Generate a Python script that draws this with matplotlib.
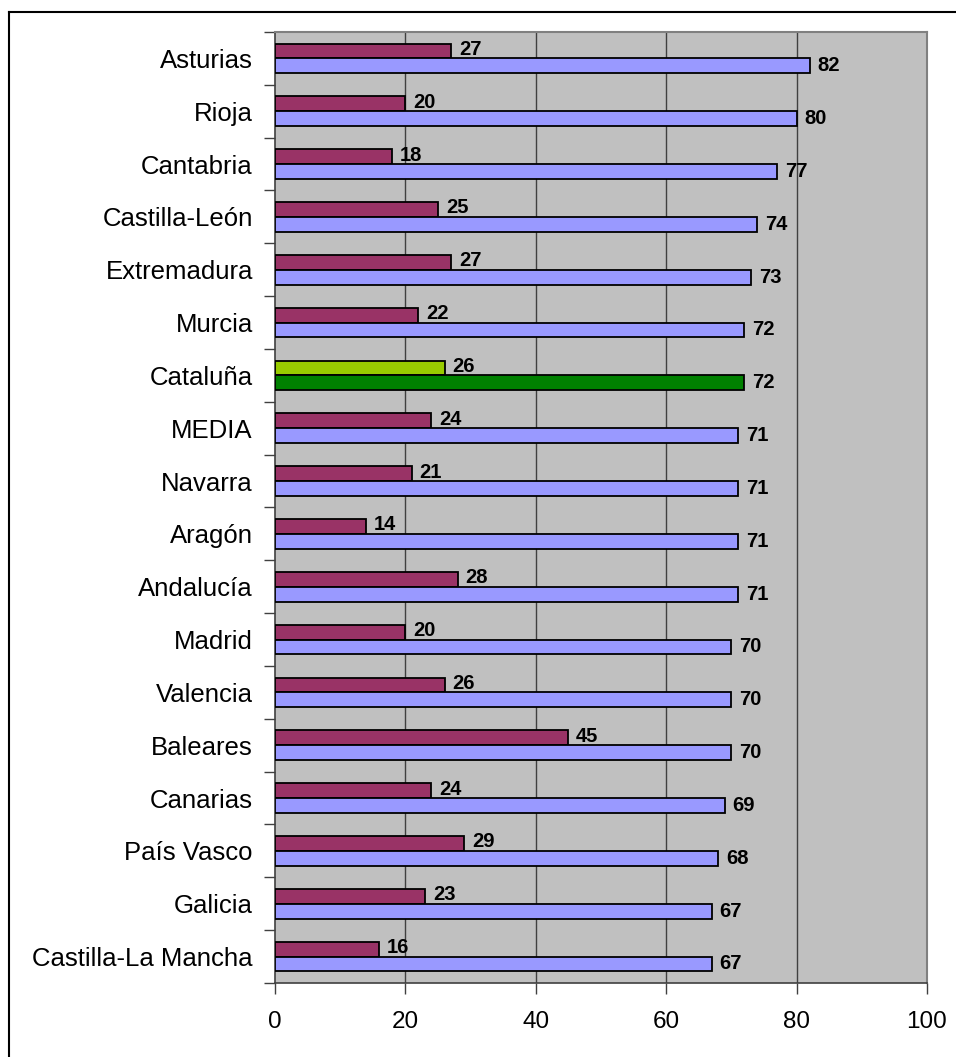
import numpy as np
import matplotlib
matplotlib.use("Agg")
import matplotlib.pyplot as plt
from matplotlib.lines import Line2D

plt.rcParams["font.family"] = ["Liberation Sans", "DejaVu Sans"]

regions = [
    "Asturias", "Rioja", "Cantabria", "Castilla-León", "Extremadura",
    "Murcia", "Cataluña", "MEDIA", "Navarra", "Aragón", "Andalucía",
    "Madrid", "Valencia", "Baleares", "Canarias", "País Vasco",
    "Galicia", "Castilla-La Mancha",
]
serie_a = [27, 20, 18, 25, 27, 22, 26, 24, 21, 14, 28, 20, 26, 45, 24, 29, 23, 16]
serie_b = [82, 80, 77, 74, 73, 72, 72, 71, 71, 71, 71, 70, 70, 70, 69, 68, 67, 67]
highlight = "Cataluña"
x_ticks = [0, 20, 40, 60, 80, 100]

fig = plt.figure(figsize=(9.56, 10.57), dpi=100)
ax = fig.add_axes([275 / 956, 1 - 983 / 1057, (927 - 275) / 956, (983 - 32) / 1057])
ax.set_facecolor("#C0C0C0")

y = np.arange(len(regions))
h = 0.28
col_a = ["#99CC00" if r == highlight else "#993366" for r in regions]
col_b = ["#008000" if r == highlight else "#9999FF" for r in regions]

ax.barh(y - 0.14, serie_a, height=h, color=col_a, edgecolor="black", linewidth=1.3, zorder=3)
ax.barh(y + 0.14, serie_b, height=h, color=col_b, edgecolor="black", linewidth=1.3, zorder=3)

for yi, a, b in zip(y, serie_a, serie_b):
    ax.text(a + 1.2, yi - 0.17, str(a), ha="left", va="center",
            fontsize=14.5, fontweight="bold", zorder=4)
    ax.text(b + 1.2, yi + 0.14, str(b), ha="left", va="center",
            fontsize=14.5, fontweight="bold", zorder=4)

ax.set_xlim(0, 100)
ax.set_ylim(len(regions) - 0.5, -0.5)
ax.set_xticks(x_ticks)
ax.set_xticklabels([str(t) for t in x_ticks], fontsize=17.5)
ax.set_yticks(y)
ax.set_yticklabels(regions, fontsize=18.5)
ax.set_yticks(np.arange(len(regions) + 1) - 0.5, minor=True)
ax.tick_params(axis="y", which="major", length=0, pad=16)
ax.tick_params(axis="y", which="minor", length=8, width=1, color="#404040")
ax.tick_params(axis="x", which="major", length=8, width=1, color="#404040", pad=12)

for gx in x_ticks[1:-1]:
    ax.axvline(gx, color="#404040", linewidth=1, zorder=1)

for side in ("left", "bottom"):
    ax.spines[side].set_color("#404040")
    ax.spines[side].set_linewidth(1.2)
for side in ("top", "right"):
    ax.spines[side].set_color("#808080")
    ax.spines[side].set_linewidth(1.5)

# outer chart border (left and top edges)
fig.add_artist(Line2D([9 / 956, 9 / 956], [0, 1 - 12 / 1057], transform=fig.transFigure,
                      color="black", linewidth=1.5))
fig.add_artist(Line2D([9 / 956, 1], [1 - 12 / 1057, 1 - 12 / 1057], transform=fig.transFigure,
                      color="black", linewidth=1.5))

fig.savefig("out.png", dpi=100)
